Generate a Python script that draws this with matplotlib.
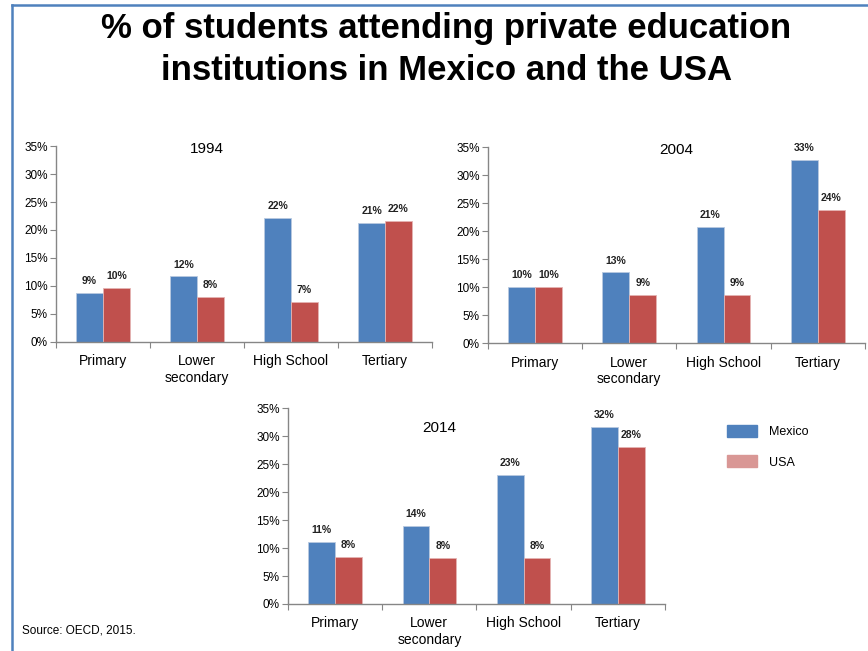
import numpy as np
import matplotlib
matplotlib.use("Agg")
import matplotlib.pyplot as plt
from matplotlib.lines import Line2D
from matplotlib.patches import Patch
from matplotlib.ticker import FixedLocator, FuncFormatter

plt.rcParams['font.family'] = ['Liberation Sans', 'DejaVu Sans']

# --- Data: % of students in private institutions ---
categories = ["Primary", "Lower\nsecondary", "High School", "Tertiary"]
years = ["1994", "2004", "2014"]
mexico_1994 = [8.8, 11.7, 22.2, 21.2]
usa_1994 = [9.7, 8.1, 7.1, 21.6]
mexico_2004 = [10.0, 12.6, 20.8, 32.7]
usa_2004 = [10.0, 8.6, 8.6, 23.7]
mexico_2014 = [11.1, 14.0, 23.0, 31.7]
usa_2014 = [8.4, 8.2, 8.2, 28.1]
y_ticks = [0, 5, 10, 15, 20, 25, 30, 35]

MEXICO_COLOR = '#4F81BD'
USA_COLOR = '#C0504D'
USA_LEGEND_COLOR = '#D99795'
AXIS_COLOR = '#868686'

fig = plt.figure(figsize=(8.68, 6.51), dpi=100)

# panel rectangles: [left, bottom, width, height] in figure fractions
panels = [
    ([0.0645, 0.4747, 0.4332, 0.301], mexico_1994, usa_1994, (0.40, 0.985)),
    ([0.5622, 0.4731, 0.4343, 0.301], mexico_2004, usa_2004, (0.50, 0.985)),
    ([0.3318, 0.0722, 0.4343, 0.301], mexico_2014, usa_2014, (0.40, 0.90)),
]

bar_w = 0.285
for (rect, mex, usa, title_pos), year in zip(panels, years):
    ax = fig.add_axes(rect)
    x = np.arange(len(categories)) + 0.5
    b1 = ax.bar(x - bar_w / 2, mex, bar_w, color=MEXICO_COLOR, edgecolor='#b8c9e0', linewidth=0.6)
    b2 = ax.bar(x + bar_w / 2, usa, bar_w, color=USA_COLOR, edgecolor='#e4b4b3', linewidth=0.6)
    for bars in (b1, b2):
        ax.bar_label(bars, labels=[f"{v:.0f}%" for v in bars.datavalues],
                     padding=5, fontsize=7.5, fontweight='bold', color='#222222')

    ax.set_xlim(0, len(categories))
    ax.set_ylim(0, 35)
    ax.yaxis.set_major_locator(FixedLocator(y_ticks))
    ax.yaxis.set_major_formatter(FuncFormatter(lambda v, p: f"{v:.0f}%"))
    ax.xaxis.set_major_locator(FixedLocator(np.arange(len(categories) + 1)))
    ax.xaxis.set_major_formatter(FuncFormatter(lambda v, p: ""))
    ax.xaxis.set_minor_locator(FixedLocator(x))
    ax.set_xticklabels(categories, minor=True)

    for side in ('top', 'right'):
        ax.spines[side].set_visible(False)
    for side in ('left', 'bottom'):
        ax.spines[side].set_color(AXIS_COLOR)
        ax.spines[side].set_linewidth(1.0)
    ax.tick_params(axis='y', length=4, color=AXIS_COLOR, labelsize=8.5, pad=2)
    ax.tick_params(axis='x', which='major', length=4, color=AXIS_COLOR)
    ax.tick_params(axis='x', which='minor', length=0, labelsize=10, pad=9)
    for lbl in ax.get_xticklabels(minor=True):
        lbl.set_linespacing(1.2)

    ax.text(title_pos[0], title_pos[1], year, transform=ax.transAxes,
            ha='center', va='center', fontsize=11)

# Title
fig.text(0.514, 0.956, "% of students attending private education",
         ha='center', va='center', fontsize=25, fontweight='bold')
fig.text(0.514, 0.891, "institutions in Mexico and the USA",
         ha='center', va='center', fontsize=25, fontweight='bold')

# Legend
handles = [Patch(facecolor=MEXICO_COLOR, edgecolor=MEXICO_COLOR),
           Patch(facecolor=USA_LEGEND_COLOR, edgecolor=USA_LEGEND_COLOR)]
fig.legend(handles, ["Mexico", "USA"], loc='upper left',
           bbox_to_anchor=(0.825, 0.365), frameon=False, fontsize=9,
           handlelength=2.4, handleheight=1.1, labelspacing=1.4, handletextpad=0.9)

# Source note
fig.text(0.025, 0.032, "Source: OECD, 2015.", ha='left', va='center', fontsize=8.5)

# Frame lines along the top and left edge
fig.add_artist(Line2D([0.014, 1.0], [0.992, 0.992], transform=fig.transFigure,
                      color=MEXICO_COLOR, linewidth=1.8))
fig.add_artist(Line2D([0.014, 0.014], [0.0, 0.992], transform=fig.transFigure,
                      color=MEXICO_COLOR, linewidth=1.8))

fig.savefig("out.png", dpi=100, facecolor='white')
